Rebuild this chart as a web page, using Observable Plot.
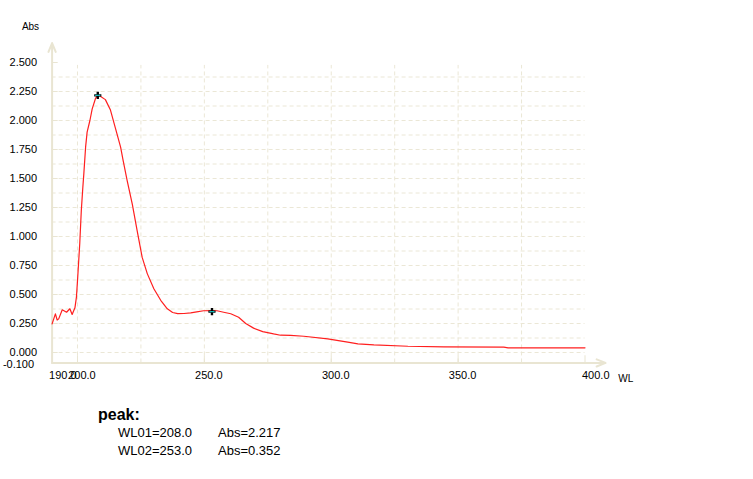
<!DOCTYPE html>
<html>
<head>
<meta charset="utf-8">
<script src="https://cdn.jsdelivr.net/npm/d3@7"></script>
<script src="https://cdn.jsdelivr.net/npm/@observablehq/plot@0.6"></script>
<style>
  html, body { margin: 0; padding: 0; background: #ffffff; }
  #wrap { position: relative; width: 753px; height: 479px; font-family: "Liberation Sans", Arial, sans-serif; }
  #wrap svg { position: absolute; left: 0; top: 0; }
  g[aria-label="tick-labels"] text { letter-spacing: -0.4px; }
  .peak { position: absolute; white-space: pre; color: #000; }
  .peak.head { font-weight: bold; font-size: 16px; line-height: 16px; }
  .peak.row { font-size: 13px; line-height: 14px; }
</style>
</head>
<body>
<div id="wrap"></div>
<script>
// ---- data ----
const wavelength = [190.0, 191.3, 192.0, 192.6, 194.0, 195.7, 197.0, 197.9, 199.0, 199.6,
  200.1, 200.9, 201.5, 202.1, 202.5, 203.2, 203.8, 204.9, 205.8, 207.1,
  208.0, 209.0, 211.0, 213.0, 215.0, 217.0, 218.0, 219.6, 221.6, 223.6,
  225.5, 227.5, 230.1, 232.8, 235.4, 237.5, 239.5, 242.0, 244.6, 247.0,
  249.7, 253.0, 255.0, 257.6, 260.4, 263.5, 266.3, 269.4, 273.0, 277.3,
  280.0, 284.0, 289.2, 298.6, 306.5, 310.5, 316.8, 330.2, 344.4, 368.0,
  369.7, 400.0];
const absorbance = [0.247, 0.333, 0.280, 0.290, 0.368, 0.347, 0.377, 0.328, 0.385, 0.480,
  0.650, 0.940, 1.220, 1.420, 1.540, 1.770, 1.900, 2.000, 2.100, 2.190,
  2.217, 2.210, 2.180, 2.090, 1.930, 1.770, 1.655, 1.480, 1.280, 1.040,
  0.820, 0.680, 0.550, 0.450, 0.377, 0.345, 0.335, 0.336, 0.342, 0.350,
  0.360, 0.362, 0.360, 0.347, 0.334, 0.304, 0.250, 0.210, 0.180, 0.160,
  0.149, 0.147, 0.140, 0.118, 0.089, 0.075, 0.066, 0.054, 0.049, 0.046,
  0.040, 0.040];

const peakNames = ["WL01", "WL02"];
const peakWL = [208.0, 253.0];
const peakAbs = [2.217, 0.352];

const xTicks = [190, 200, 250, 300, 350, 400];
const xTickLabels = ["190.0", "200.0", "250.0", "300.0", "350.0", "400.0"];
const yTicks = [2.5, 2.25, 2.0, 1.75, 1.5, 1.25, 1.0, 0.75, 0.5, 0.25, 0.0, -0.1];
const yTickLabels = ["2.500", "2.250", "2.000", "1.750", "1.500", "1.250", "1.000", "0.750", "0.500", "0.250", "0.000", "-0.100"];
const xGrid = [200, 225, 250, 275, 300, 325, 350, 375];
const yGrid = d3.range(0, 20).map(i => i * 0.125);
const xAxisTitle = "WL";
const yAxisTitle = "Abs";

// ---- build tables ----
const spectrum = wavelength.map((w, i) => ({wl: w, abs: absorbance[i]}));
const peaks = peakWL.map((w, i) => ({wl: w, abs: peakAbs[i]}));
const xLab = xTicks.map((t, i) => ({t, label: xTickLabels[i], end: i === 0 || i === xTicks.length - 1}));
const yLab = yTicks.map((t, i) => ({t, label: yTickLabels[i], neg: t < 0}));

const axisColor = "#e9e5d2";
const gridColor = "#ebe7d6";
const cyanBar = { draw(ctx, size) { ctx.rect(-2.6, -0.6, 5.2, 1.2); } };

const chart = Plot.plot({
  width: 753,
  height: 395,
  x: {domain: [190, 400], range: [51.6, 584.5], axis: null},
  y: {domain: [-0.1, 2.5], range: [363.6, 62], axis: null},
  style: {fontFamily: "'Liberation Sans', Arial, sans-serif", background: "transparent", overflow: "visible"},
  marks: [
    // grid
    Plot.ruleY(yGrid, {x1: 190, x2: 400, stroke: gridColor, strokeWidth: 1, strokeDasharray: "4,3"}),
    Plot.ruleX(xGrid, {y1: -0.09, y2: 2.475, stroke: gridColor, strokeWidth: 1, strokeDasharray: "4,3"}),
    // small ticks
    Plot.ruleY(yTicks.filter(t => t >= 0), {x1: 190, x2: 192.4, stroke: axisColor, strokeWidth: 1}),
    Plot.ruleX(xTicks, {y1: -0.09, y2: -0.028, stroke: axisColor, strokeWidth: 1}),
    // axes with arrow heads
    Plot.arrow([0], {x1: 190, y1: -0.09, x2: 190, y2: 2.668, stroke: axisColor, strokeWidth: 2, headLength: 7.2, headAngle: 44}),
    Plot.arrow([0], {x1: 190, y1: -0.09, x2: 408.1, y2: -0.09, stroke: axisColor, strokeWidth: 2, headLength: 7.2, headAngle: 44}),
    // tick labels
    Plot.text(yLab.filter(d => !d.neg), {x: 190, y: "t", text: "label", textAnchor: "end", dx: -15, fontSize: 11, fill: "#000", ariaLabel: "tick-labels"}),
    Plot.text(yLab.filter(d => d.neg), {x: 190, y: "t", text: "label", textAnchor: "end", dx: -18, fontSize: 11, fill: "#000", ariaLabel: "tick-labels"}),
    Plot.text(xLab.filter(d => !d.end), {x: "t", y: -0.1, text: "label", textAnchor: "middle", dx: 4.5, dy: 11, fontSize: 11, fill: "#000", ariaLabel: "tick-labels"}),
    Plot.text(xLab.filter(d => d.end), {x: "t", y: -0.1, text: "label", textAnchor: "start", dx: -3, dy: 11, fontSize: 11, fill: "#000", ariaLabel: "tick-labels"}),
    // axis titles
    Plot.text([yAxisTitle], {x: 190, y: 2.81, text: d => d, textAnchor: "middle", dx: -21.6, fontSize: 10, fill: "#000"}),
    Plot.text([xAxisTitle], {x: 416.1, y: -0.224, text: d => d, textAnchor: "middle", fontSize: 10, fill: "#000"}),
    // spectrum
    Plot.line(spectrum, {x: "wl", y: "abs", stroke: "#ff1f1f", strokeWidth: 1.2}),
    // peak markers
    Plot.dot(peaks, {x: "wl", y: "abs", symbol: "cross", r: 3, fill: "#000", stroke: "none"}),
    Plot.dot(peaks, {x: "wl", y: "abs", symbol: cyanBar, r: 3, fill: "#16c8c8", stroke: "none"})
  ]
});

const wrap = document.getElementById("wrap");
wrap.appendChild(chart);

function addText(cls, text, left, top) {
  const d = document.createElement("div");
  d.className = "peak " + cls;
  d.textContent = text;
  d.style.left = left + "px";
  d.style.top = top + "px";
  wrap.appendChild(d);
}
addText("head", "peak:", 98, 406.5);
peakNames.forEach((n, i) => {
  const top = 425.5 + i * 18;
  addText("row", n + "=" + peakWL[i].toFixed(1), 118, top);
  addText("row", "Abs=" + peakAbs[i].toFixed(3), 218, top);
});
</script>
</body>
</html>
